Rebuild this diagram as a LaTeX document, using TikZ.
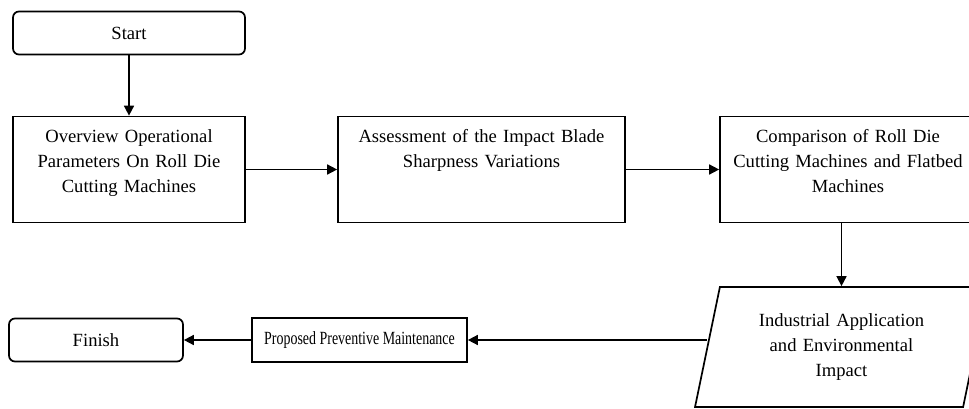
\documentclass[tikz,border=0pt]{standalone}
\usepackage{fontspec}
\setmainfont{Liberation Serif}
\usepackage{graphicx}
\usepackage{tikz}
\usetikzlibrary{shapes.geometric, arrows.meta}

\begin{document}
\begin{tikzpicture}[x=1pt, y=-1pt,
    every node/.style={font=\fontsize{18.6}{25}\selectfont},
    terminal/.style={draw, line width=1.7pt, rounded corners=6pt, minimum height=43pt, inner sep=0pt},
    process/.style={draw, line width=1.7pt, inner xsep=4pt, inner ysep=0pt, align=center, text height=26pt, text depth=80pt},
    inout/.style={draw, line width=1.7pt, trapezium, trapezium left angle=73, trapezium right angle=107,
        trapezium stretches=true, minimum width=293pt, minimum height=120pt, align=center, inner sep=0pt},
    flow/.style={-{Triangle[length=10pt, width=10pt]}, line width=1.6pt}]
    % Frame
    \useasboundingbox (0,0) rectangle (969,409);
    % Terminals
    \node[terminal, minimum width=232pt] (start) at (129,33) {Start};
    \node[terminal, minimum width=174pt] (finish) at (96,340) {Finish};
    % Steps
    \node[process, text width=224pt] (overview) at (129,169.5) {Overview Operational\\ Parameters On Roll Die\\ Cutting Machines};
    \node[process, text width=279pt] (assess) at (481.5,169.5) {Assessment of the Impact Blade\\ Sharpness Variations};
    \node[process, text width=248pt] (compare) at (848,169.5) {Comparison of Roll Die\\ Cutting Machines and Flatbed\\ Machines};
    \node[inout, text width=200pt] (industry) at (841.5,347) {Industrial Application\\ and Environmental\\ Impact};
    \node[draw, line width=1.7pt, minimum width=215pt, minimum height=44pt, inner sep=0pt] (prevent) at (359.5,340)
        {\scalebox{0.75}[1]{Proposed Preventive Maintenance}};
    % Arrows
    \draw[flow] (start) -- (overview);
    \draw[flow] (overview) -- (assess);
    \draw[flow] (assess) -- (compare);
    \draw[flow] (industry.north |- compare.south) -- (industry.north);
    \draw[flow] (industry.west |- prevent.east) -- (prevent);
    \draw[flow] (prevent) -- (finish);
\end{tikzpicture}
\end{document}
